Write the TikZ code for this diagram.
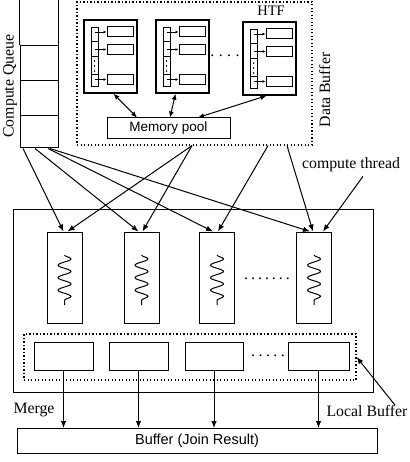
\documentclass[tikz,border=0pt]{standalone}
\usepackage{fontspec}
\setmainfont{Liberation Serif}
\newfontfamily\sansf{Liberation Sans}
\usetikzlibrary{arrows.meta,decorations.pathmorphing}
\begin{document}
\begin{tikzpicture}[x=1pt, y=-1pt,
  box/.style={draw, line width=1pt, inner sep=0pt},
  dotbox/.style={draw, line width=1.2pt, dash pattern=on 1.3pt off 2.2pt, inner sep=0pt},
  lbl/.style={font=\fontsize{15.8}{18}\selectfont, inner sep=0pt},
  sanslbl/.style={font=\sansf\fontsize{13.5}{16}\selectfont},
  arr/.style={line width=1pt, -{Latex[length=7pt,width=5.5pt]}},
  darr/.style={line width=1pt, {Latex[length=6pt,width=5pt]}-{Latex[length=6pt,width=5pt]}},
  sarr/.style={line width=0.8pt, -{Latex[length=3pt,width=3pt]}},
  wave/.style={line width=1pt, decorate, decoration={snake, segment length=12.5pt, amplitude=6.5pt}}]
\useasboundingbox (0,0) rectangle (409,462);
\node[box, minimum width=38pt, minimum height=35pt] (qc0) at (39,63.5){};
\node[box, minimum width=38pt, minimum height=35pt] (qc1) at (39,98.5){};
\node[box, minimum width=38pt, minimum height=32pt] (qc2) at (39,132){};
\draw[line width=1pt](qc0.north west) -- (qc0.north west |- 0,0);
\draw[line width=1pt](qc0.north east) -- (qc0.north east |- 0,0);
\node[lbl, rotate=90, anchor=base] (cqtxt) at (13.5,86){Compute Queue};
\node[dotbox, minimum width=235pt, minimum height=143pt] (dbuf) at (194.5,73.5){};
\node[lbl, font=\fontsize{14.5}{17}\selectfont] (htftxt) at (271,11){HTF};
\node[lbl, rotate=90, anchor=base] (dbtxt) at (330,90){Data Buffer};
\foreach \i/\x/\y in {0/84/20, 1/156/20, 2/243/22}{
  \node[box, line width=1.5pt, minimum width=53pt, minimum height=73pt] (htf\i) at (\x+26.5,\y+36.5){};
  \node[box, minimum width=7pt, minimum height=14pt] (hc\i-0) at (\x+10.5,\y+15){};
  \node[box, minimum width=7pt, minimum height=15pt] (hc\i-1) at (\x+10.5,\y+29.5){};
  \node[box, minimum width=7pt, minimum height=18pt] (hc\i-2) at (\x+10.5,\y+46){};
  \node[box, minimum width=7pt, minimum height=12pt] (hc\i-3) at (\x+10.5,\y+61){};
  \node[box, minimum width=26pt, minimum height=10pt] (hr\i-0) at (\x+36,\y+12){};
  \node[box, minimum width=26pt, minimum height=10pt] (hr\i-1) at (\x+36,\y+29.5){};
  \node[box, minimum width=26pt, minimum height=10pt] (hr\i-2) at (\x+36,\y+59.5){};
  \draw[sarr](hc\i-0.center |- hr\i-0.west) -- (hr\i-0.west);
  \draw[sarr](hc\i-1.center |- hr\i-1.west) -- (hr\i-1.west);
  \draw[sarr](hc\i-3.center |- hr\i-2.west) -- (hr\i-2.west);
  \fill (\x+10.5,\y+41) circle (0.8pt) (\x+10.5,\y+46) circle (0.8pt) (\x+10.5,\y+51) circle (0.8pt);
}
\node[lbl, anchor=base] (hdots) at (225,57){.\hspace{4.5pt}.\hspace{4.5pt}.\hspace{4.5pt}.};
\node[box, sanslbl, minimum width=123pt, minimum height=21pt] (mem) at (168.5,128.5){Memory pool};
\draw[darr]([xshift=3pt]htf0.south) -- ([xshift=-31.5pt]mem.north);
\draw[darr]([xshift=-7pt]htf1.south) -- ([xshift=1.5pt]mem.north);
\draw[darr]([xshift=-3pt]htf2.south) -- ([xshift=29.5pt]mem.north);
\node[box, minimum width=360pt, minimum height=183pt] (main) at (193,300.5){};
\node[box, minimum width=35pt, minimum height=91pt] (thr0) at (64.5,277.5){};
\node[box, minimum width=35pt, minimum height=91pt] (thr1) at (141.5,277.5){};
\node[box, minimum width=35pt, minimum height=91pt] (thr2) at (217,277.5){};
\node[box, minimum width=35pt, minimum height=91pt] (thr3) at (314,277.5){};
\draw[wave]([yshift=22.5pt]thr0.center) -- ([yshift=-27.5pt]thr0.center);
\draw[wave]([yshift=22.5pt]thr1.center) -- ([yshift=-27.5pt]thr1.center);
\draw[wave]([yshift=22.5pt]thr2.center) -- ([yshift=-27.5pt]thr2.center);
\draw[wave]([yshift=22.5pt]thr3.center) -- ([yshift=-27.5pt]thr3.center);
\node[lbl, anchor=base] (tdots) at (267,279){.\hspace{3pt}.\hspace{3pt}.\hspace{3pt}.\hspace{3pt}.\hspace{3pt}.\hspace{3pt}.};
\node[dotbox, minimum width=332pt, minimum height=46pt] (lbuf) at (190,357){};
\node[box, minimum width=59pt, minimum height=28pt] (lb0) at (63.5,356.5){};
\node[box, minimum width=59pt, minimum height=28pt] (lb1) at (138.5,356.5){};
\node[box, minimum width=58pt, minimum height=28pt] (lb2) at (214,356.5){};
\node[box, minimum width=61pt, minimum height=28pt] (lb3) at (318.5,356.5){};
\node[lbl, anchor=base] (ldots) at (268,356){.\hspace{3.5pt}.\hspace{3.5pt}.\hspace{3.5pt}.\hspace{3.5pt}.};
\node[box, sanslbl, font=\sansf\fontsize{14.5}{17}\selectfont, minimum width=360pt, minimum height=25pt] (buf) at (197,441){Buffer (Join Result)};
\draw[arr](lb0.south) -- (lb0.south |- buf.north);
\draw[arr](lb1.south) -- (lb1.south |- buf.north);
\draw[arr](lb2.south) -- (lb2.south |- buf.north);
\draw[arr](lb3.south) -- (lb3.south |- buf.north);
\node[lbl] (mergetxt) at (34,410){Merge};
\node[lbl] (lbtxt) at (367,411){Local Buffer};
\draw[arr]([xshift=28pt]lbtxt.north) -- (lbuf.east);
\node[lbl] (cttxt) at (351,165){compute thread};
\draw[arr]([xshift=12pt,yshift=-4pt]cttxt.south) -- ([xshift=9pt]thr3.north);
\draw[arr]([xshift=-16pt]qc2.south) -- ([xshift=-1pt]thr0.north);
\draw[arr]([xshift=-4pt]qc2.south) -- ([xshift=-3pt]thr1.north);
\draw[arr]([xshift=9pt]qc2.south) -- ([xshift=-4pt]thr2.north);
\draw[arr]([xshift=11pt]qc2.south) -- ([xshift=-4pt]thr3.north);
\draw[arr]([xshift=-2.5pt]dbuf.south) -- ([xshift=3pt]thr0.north);
\draw[arr]([xshift=-2.5pt]dbuf.south) -- ([xshift=1pt]thr1.north);
\draw[arr]([xshift=73.5pt]dbuf.south) -- ([xshift=1pt]thr2.north);
\draw[arr]([xshift=92.5pt]dbuf.south) -- ([xshift=-1pt]thr3.north);
\end{tikzpicture}
\end{document}
